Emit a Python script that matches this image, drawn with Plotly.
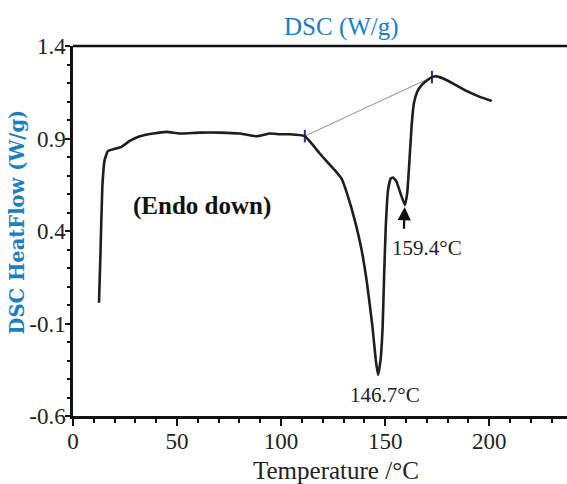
import plotly.graph_objects as go

# DSC curve
temperature = [12.5, 13.2, 14.1, 15.2, 16.8, 20.0, 23.3, 27.3, 32.1, 38.5, 44.9, 51.3,
               60.9, 70.5, 80.1, 88.2, 94.6, 99.4, 104.2, 111.4, 118.6, 125.8, 129.0,
               132.2, 135.4, 138.7, 141.3, 143.9, 145.5, 146.6, 147.8, 148.8, 149.5,
               150.3, 151.4, 152.7, 153.8, 155.5, 157.4, 159.5, 160.6, 161.5, 162.7,
               163.8, 165.4, 167.5, 170.7, 172.8, 174.7, 177.9, 182.7, 189.1, 195.5, 201.2]
heat_flow = [0.012, 0.279, 0.639, 0.783, 0.833, 0.844, 0.855, 0.887, 0.912, 0.927, 0.936, 0.927,
             0.932, 0.932, 0.927, 0.912, 0.927, 0.923, 0.923, 0.913, 0.819, 0.729, 0.684,
             0.585, 0.459, 0.297, 0.117, -0.117, -0.297, -0.378, -0.297, -0.117, 0.153,
             0.423, 0.621, 0.684, 0.689, 0.666, 0.603, 0.540, 0.603, 0.747, 0.963,
             1.089, 1.152, 1.188, 1.219, 1.233, 1.236, 1.224, 1.197, 1.157, 1.125, 1.103]

baseline_t = [111.4, 172.5]
baseline_v = [0.913, 1.232]

peak1_t, peak1_v = 146.7, -0.378
peak2_t, peak2_v = 159.4, 0.540

x_ticks = [0, 50, 100, 150, 200]
y_ticks = [-0.6, -0.1, 0.4, 0.9, 1.4]

FONT = "Liberation Serif"
BLUE = "#1c7dbf"

fig = go.Figure()
fig.add_trace(go.Scatter(x=baseline_t, y=baseline_v, mode="lines+markers",
                         line=dict(color="#8c8c9c", width=1),
                         marker=dict(symbol="line-ns-open", size=9, color="#2b2b8c",
                                     line=dict(width=2, color="#2b2b8c")),
                         hoverinfo="skip", showlegend=False))
fig.add_trace(go.Scatter(x=temperature, y=heat_flow, mode="lines",
                         line=dict(color="#1e1e1e", width=2.6, shape="spline", smoothing=0.4),
                         showlegend=False))

fig.update_layout(
    width=567, height=484,
    margin=dict(l=73, r=0, t=46, b=68),
    plot_bgcolor="white", paper_bgcolor="white",
    font=dict(family=FONT, color="#222"),
    xaxis=dict(range=[0, 237.4], tickvals=x_ticks, showgrid=False, zeroline=False,
               showline=True, linecolor="#111", linewidth=2.5,
               ticks="outside", ticklen=7, tickwidth=2, tickcolor="#111",
               ticklabelstandoff=-4,
               minor=dict(dtick=10, tick0=0, ticks="outside", ticklen=4, tickwidth=2, tickcolor="#111"),
               tickfont=dict(size=23, family=FONT, color="#222")),
    yaxis=dict(range=[-0.6, 1.4], tickvals=y_ticks, ticktext=["-0.6", "-0.1", "0.4", "0.9", "1.4"],
               showgrid=False, zeroline=False,
               showline=True, linecolor="#111", linewidth=2.5,
               ticks="outside", ticklen=5, tickwidth=2, tickcolor="#111",
               ticklabelstandoff=-5,
               minor=dict(dtick=0.1, tick0=-0.6, ticks="outside", ticklen=3, tickwidth=2, tickcolor="#111"),
               tickfont=dict(size=23, family=FONT, color="#222")),
    shapes=[dict(type="line", xref="paper", yref="paper", x0=0, x1=1, y0=1, y1=1,
                 line=dict(color="#111", width=2.5))],
    annotations=[
        dict(text="DSC (W/g)", xref="paper", yref="paper", x=0.544, y=1.05,
             xanchor="center", yanchor="middle",
             showarrow=False, font=dict(size=25, color=BLUE, family=FONT)),
        dict(text="<b>DSC HeatFlow (W/g)</b>", xref="paper", yref="paper", x=-0.112, y=0.525,
             xanchor="center", yanchor="middle",
             textangle=-90, showarrow=False, font=dict(size=19.5, color=BLUE, family="DejaVu Serif")),
        dict(text="Temperature /°C", xref="paper", yref="paper", x=0.532, y=-0.147,
             xanchor="center", yanchor="middle",
             showarrow=False, font=dict(size=25, color="#222", family=FONT)),
        dict(text="<b>(Endo down)</b>", x=62.2, y=0.534, showarrow=False,
             xanchor="center", yanchor="middle",
             font=dict(size=25, color="#111", family=FONT)),
        dict(text=f"{peak1_t}°C", x=149.8, y=-0.486, showarrow=False,
             xanchor="center", yanchor="middle",
             font=dict(size=21, color="#222", family=FONT)),
        dict(text=f"{peak2_t}°C", x=170.0, y=0.306, showarrow=False,
             xanchor="center", yanchor="middle",
             font=dict(size=21, color="#222", family=FONT)),
        dict(text="", x=peak2_t, y=peak2_v - 0.01, ax=159.0, ay=0.404, axref="x", ayref="y",
             showarrow=True, arrowhead=2, arrowsize=1.2, arrowwidth=2.2, arrowcolor="#111"),
    ],
)

fig.write_html("out.html", config={"displayModeBar": False},
               post_script="document.body.style.margin='0';document.body.style.padding='0';")
